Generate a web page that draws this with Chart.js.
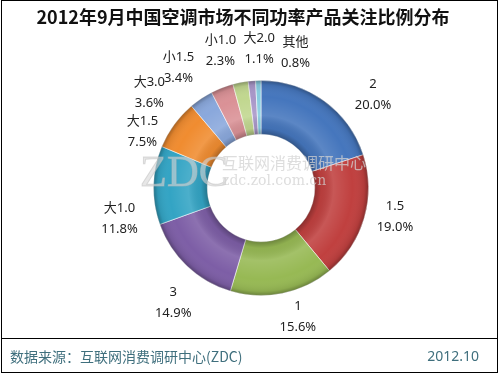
<!DOCTYPE html>
<html>
<head>
<meta charset="utf-8">
<script src="https://cdn.jsdelivr.net/npm/chart.js@4/dist/chart.umd.min.js"></script>
<style>
  body { margin: 0; background: #fff; }
  canvas { display: block; }
</style>
</head>
<body>
<canvas id="myChart" width="500" height="375"></canvas>
<script>
// data
var categories = ['2', '1.5', '1', '3', '大1.0', '大1.5', '大3.0', '小1.5', '小1.0', '大2.0', '其他'];
var shares = [20.0, 19.0, 15.6, 14.9, 11.8, 7.5, 3.6, 3.4, 2.3, 1.1, 0.8];
var colors = ['#4576bd', '#c0403f', '#97b954', '#7d5ea6', '#33a4c4', '#f08c30',
              '#8aa8dc', '#da9196', '#c1d78f', '#a896c8', '#86cce0'];

var titleText = '2012年9月中国空调市场不同功率产品关注比例分布';
var sourceText = '数据来源：互联网消费调研中心(ZDC)';
var dateText = '2012.10';

// hand nudges for the outside labels (px), like the excel layout
var labelNudge = [[30, 20], [0, -10], [9, -8], [8, 13], [-2, 34], [-6, 26],
                  [-34, 21], [-32, 10], [-14, 0], [10, 0], [38, 4]];

var frame = {
  id: 'frame',
  beforeDraw: function(chart) {
    var c = chart.ctx;
    c.save();
    c.fillStyle = '#fff';
    c.fillRect(0, 0, chart.width, chart.height);
    c.restore();
  },
  afterDatasetsDraw: function(chart) {
    var c = chart.ctx;
    var meta = chart.getDatasetMeta(0);
    var arc = meta.data[0];
    var cx = arc.x, cy = arc.y, ri = arc.innerRadius, ro = arc.outerRadius;

    // bevel shading over the ring
    c.save();
    var g = c.createRadialGradient(cx, cy, ri, cx, cy, ro);
    g.addColorStop(0, 'rgba(0,0,0,0.28)');
    g.addColorStop(0.12, 'rgba(0,0,0,0.05)');
    g.addColorStop(0.35, 'rgba(255,255,255,0.12)');
    g.addColorStop(0.7, 'rgba(255,255,255,0)');
    g.addColorStop(0.92, 'rgba(0,0,0,0.08)');
    g.addColorStop(1, 'rgba(0,0,0,0.3)');
    c.beginPath();
    c.arc(cx, cy, ro, 0, Math.PI * 2);
    c.arc(cx, cy, ri, 0, Math.PI * 2, true);
    c.fillStyle = g;
    c.fill();
    c.restore();

    // outside labels
    c.save();
    c.fillStyle = '#222';
    c.font = '13px "Noto Sans", "Noto Sans CJK SC", sans-serif';
    c.textAlign = 'center';
    c.textBaseline = 'middle';
    meta.data.forEach(function(a, i) {
      var mid = (a.startAngle + a.endAngle) / 2;
      var r = a.outerRadius + 32;
      var x = a.x + Math.cos(mid) * r + labelNudge[i][0];
      var y = a.y + Math.sin(mid) * r + labelNudge[i][1];
      c.fillText(categories[i], x, y - 10.5);
      c.fillText(shares[i].toFixed(1) + '%', x, y + 10.5);
    });
    c.restore();
  },
  afterDraw: function(chart) {
    var c = chart.ctx;
    c.save();
    // watermark
    c.fillStyle = 'rgba(215,215,215,0.6)';
    c.strokeStyle = 'rgba(190,190,190,0.5)';
    c.font = '44px "Liberation Serif", serif';
    c.textBaseline = 'alphabetic';
    c.textAlign = 'left';
    c.fillText('ZDC', 140, 186);
    c.strokeText('ZDC', 140, 186);
    c.font = '16px "Noto Sans CJK SC", sans-serif';
    c.fillStyle = 'rgba(210,210,210,0.75)';
    c.fillText('互联网消费调研中心', 222, 169);
    c.font = '14px "DejaVu Serif", serif';
    c.fillText('zdc.zol.com.cn', 222, 185);

    // title
    c.fillStyle = '#111';
    c.font = 'bold 18px "Noto Sans CJK SC", sans-serif';
    c.textAlign = 'center';
    c.textBaseline = 'middle';
    c.fillText(titleText, 243, 17);

    // frame and footer line
    c.strokeStyle = '#000';
    c.lineWidth = 1;
    c.strokeRect(1.5, 0.5, 496, 372);
    c.beginPath();
    c.moveTo(1.5, 338.5);
    c.lineTo(497.5, 338.5);
    c.stroke();

    // footer
    c.fillStyle = '#3f6f7d';
    c.font = '14px "Noto Sans CJK SC", sans-serif';
    c.textAlign = 'left';
    c.fillText(sourceText, 10, 357);
    c.textAlign = 'right';
    c.font = '14px "Noto Sans", sans-serif';
    c.fillText(dateText, 479, 357);
    c.restore();
  }
};

var ctx = document.getElementById('myChart');
var myChart = new Chart(ctx, {
  type: 'doughnut',
  data: {
    labels: categories,
    datasets: [{
      data: shares,
      backgroundColor: colors,
      borderColor: 'rgba(255,255,255,0.55)',
      borderWidth: 1
    }]
  },
  options: {
    responsive: false,
    animation: false,
    cutout: '50%',
    layout: { padding: { left: 153, right: 131, top: 80, bottom: 79 } },
    plugins: {
      legend: { display: false },
      tooltip: { enabled: false }
    }
  },
  plugins: [frame]
});
</script>
</body>
</html>
